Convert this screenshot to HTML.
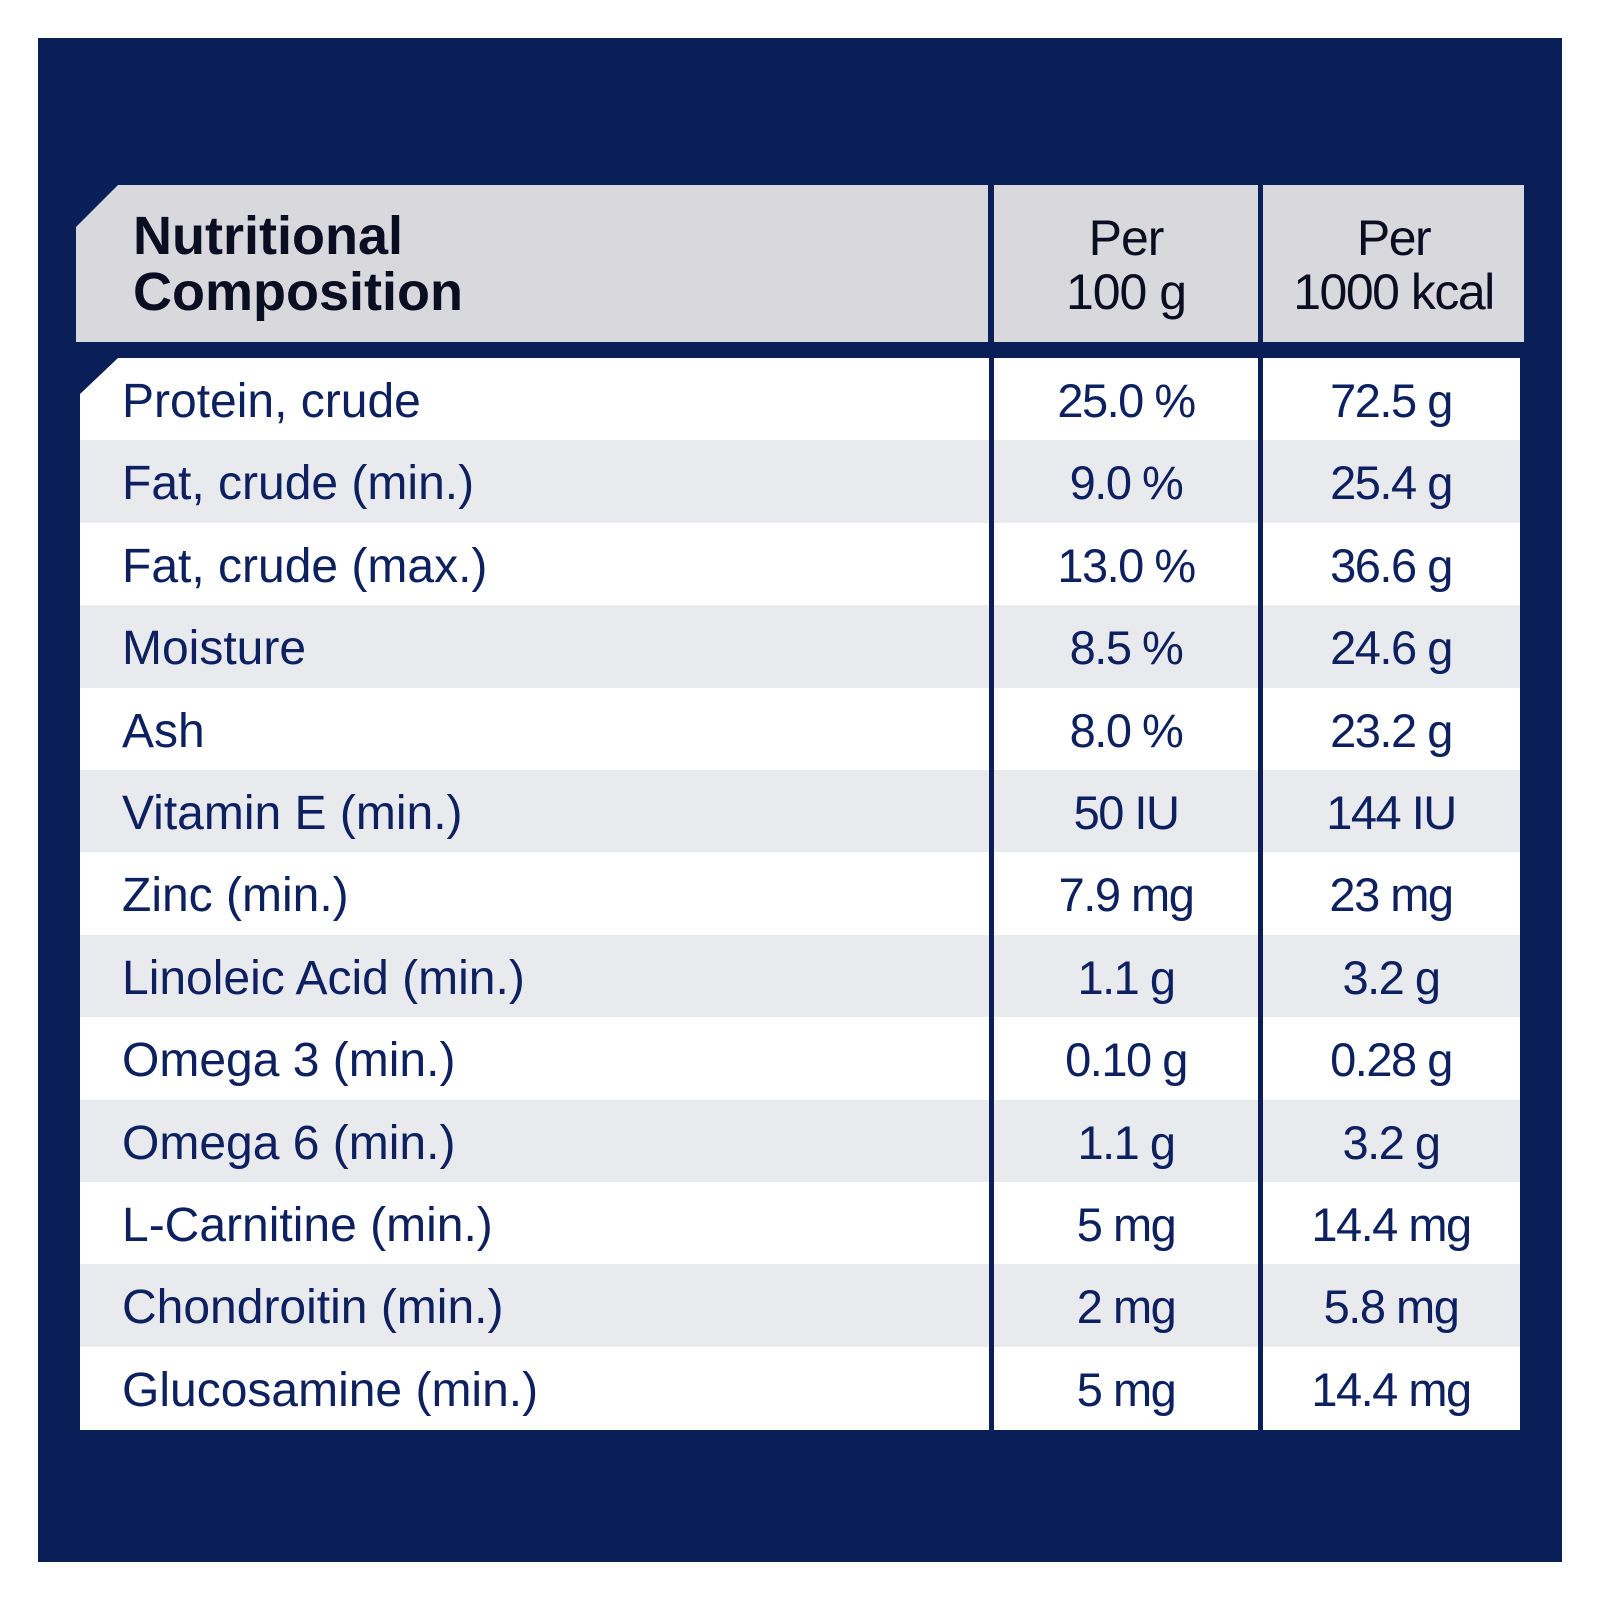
<!DOCTYPE html>
<html><head><style>
*{margin:0;padding:0;box-sizing:border-box}
body{width:1600px;height:1600px;background:#fff;position:relative;overflow:hidden;font-family:"Liberation Sans",sans-serif}
.navy{position:absolute;left:38px;top:38px;width:1524px;height:1524px;background:#0a1f58}
.h{position:absolute;top:185px;height:157px;background:#d9d9dd;color:#0b0e22}
.t{position:absolute;font-size:48px;color:#0d2060;white-space:nowrap}
.v{position:absolute;font-size:47px;color:#0d2060;white-space:nowrap;transform:translateX(-50%);letter-spacing:-1.5px}
</style></head><body>
<div class="navy"></div>
<div class="h" style="left:76px;width:912px;clip-path:polygon(42px 0,100% 0,100% 100%,0 100%,0 42px)">
<div style="position:absolute;left:57px;top:23px;font-size:54px;font-weight:bold;line-height:56px">Nutritional<br>Composition</div></div>
<div class="h" style="left:994px;width:264px;text-align:center"><div style="font-size:50px;line-height:54px;padding-top:26px;letter-spacing:-1px">Per<br>100 g</div></div>
<div class="h" style="left:1263px;width:261px;text-align:center"><div style="font-size:50px;line-height:54px;padding-top:26px;letter-spacing:-1.5px">Per<br>1000 kcal</div></div>
<div id="rows"></div>
<script>
const d=[["Protein, crude","25.0 %","72.5 g"],["Fat, crude (min.)","9.0 %","25.4 g"],["Fat, crude (max.)","13.0 %","36.6 g"],["Moisture","8.5 %","24.6 g"],["Ash","8.0 %","23.2 g"],["Vitamin E (min.)","50 IU","144 IU"],["Zinc (min.)","7.9 mg","23 mg"],["Linoleic Acid (min.)","1.1 g","3.2 g"],["Omega 3 (min.)","0.10 g","0.28 g"],["Omega 6 (min.)","1.1 g","3.2 g"],["L-Carnitine (min.)","5 mg","14.4 mg"],["Chondroitin (min.)","2 mg","5.8 mg"],["Glucosamine (min.)","5 mg","14.4 mg"]];
let h="";
d.forEach((r,i)=>{const top=358+i*82.4;const bg=i%2?"#e9eaee":"#fff";
const clip=i==0?"clip-path:polygon(38px 0,100% 0,100% 100%,0 100%,0 36px);":"";
h+=`<div style="position:absolute;left:80px;top:${top}px;width:909px;height:83px;background:${bg};${clip}"></div>`;
h+=`<div style="position:absolute;left:994px;top:${top}px;width:264px;height:83px;background:${bg}"></div>`;
h+=`<div style="position:absolute;left:1263px;top:${top}px;width:257px;height:83px;background:${bg}"></div>`;
h+=`<div class="t" style="left:122px;top:${top+16}px">${r[0]}</div>`;
h+=`<div class="v" style="left:1126px;top:${top+15}px">${r[1]}</div>`;
h+=`<div class="v" style="left:1391px;top:${top+15}px">${r[2]}</div>`;});
document.getElementById("rows").innerHTML=h;
</script>
</body></html>
